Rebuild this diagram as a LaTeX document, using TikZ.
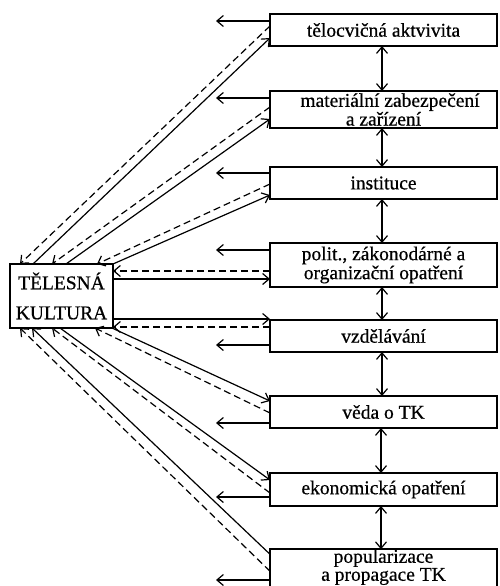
\documentclass[tikz,border=0pt]{standalone}
\usepackage{fontspec}
\setmainfont[FakeBold=0.6]{Liberation Serif}
\usetikzlibrary{arrows.meta}
\begin{document}
\begin{tikzpicture}[x=1pt,y=-1pt,
  box/.style={draw, line width=1.5pt, minimum width=227pt, inner sep=0pt, outer sep=0pt, align=center, font=\fontsize{19.5}{19}\selectfont},
  tip/.style={-{Straight Barb[length=6.5pt,width=11pt,line width=1.2pt]}},
  twotip/.style={{Straight Barb[length=6.5pt,width=11pt,line width=1.2pt]}-{Straight Barb[length=6.5pt,width=11pt,line width=1.2pt]}},
  ln/.style={line width=1.2pt},
  dsh/.style={line width=1.2pt, dash pattern=on 7pt off 4pt},
]
\useasboundingbox (0,0) rectangle (499,586);
% boxes
\node[box, minimum height=32pt] (b1) at (383.5,30) {tělocvičná aktvivita};
\node[box, minimum height=37pt, font=\fontsize{19.5}{14}\selectfont] (b2) at (383.5,109.5) {\hspace*{13pt}materiální zabezpečení\\a zařízení};
\node[box, minimum height=32pt] (b3) at (383.5,183) {instituce};
\node[box, minimum height=44pt] (b4) at (383.5,265) {polit., zákonodárné a\\organizační opatření};
\node[box, minimum height=32pt] (b5) at (383.5,336) {vzdělávání};
\node[box, minimum height=32pt] (b6) at (383.5,412) {věda o TK};
\node[box, minimum height=33pt] (b7) at (383.5,489.5) {ekonomická opatření};
\node[box, minimum height=42pt, font=\fontsize{19.5}{18}\selectfont, text depth=12pt] (b8) at (383.5,571) {popularizace\\a propagace TK};
\node[draw, line width=1.5pt, minimum width=103pt, minimum height=64pt, inner sep=0pt, outer sep=0pt, align=center, font=\fontsize{19.5}{30}\selectfont] (tk) at (61.5,296) {TĚLESNÁ\\KULTURA};
% vertical double arrows
\draw[ln,twotip] ([xshift=-1.5pt]b1.south) -- ([xshift=-1.5pt]b2.north);
\draw[ln,twotip] ([xshift=-1.5pt]b2.south) -- ([xshift=-1.5pt]b3.north);
\draw[ln,twotip] ([xshift=-1.5pt]b3.south) -- ([xshift=-1.5pt]b4.north);
\draw[ln,twotip] ([xshift=-1.5pt]b4.south) -- ([xshift=-1.5pt]b5.north);
\draw[ln,twotip] ([xshift=-1.5pt]b5.south) -- ([xshift=-1.5pt]b6.north);
\draw[ln,twotip] ([xshift=-2.5pt]b6.south) -- ([xshift=-2.5pt]b7.north);
\draw[ln,twotip] ([xshift=-2.5pt]b7.south) -- ([xshift=-2.5pt]b8.north);
% short left arrows
\coordinate (l1) at (216,21);
\coordinate (l2) at (216,98);
\coordinate (l3) at (216,173);
\coordinate (l4) at (216,250);
\coordinate (l5) at (216,345);
\coordinate (l6) at (216,423);
\coordinate (l7) at (216,497);
\coordinate (l8) at (216,580);
\draw[ln,tip] (b1.west |- l1) -- (l1);
\draw[ln,tip] (b2.west |- l2) -- (l2);
\draw[ln,tip] (b3.west |- l3) -- (l3);
\draw[ln,tip] (b4.west |- l4) -- (l4);
\draw[ln,tip] (b5.west |- l5) -- (l5);
\draw[ln,tip] (b6.west |- l6) -- (l6);
\draw[ln,tip] (b7.west |- l7) -- (l7);
\draw[ln,tip] (b8.west |- l8) -- (l8);
% upper diagonals
\draw[dsh,tip] ([yshift=-12pt]b1.north west) -- ([xshift=10pt]tk.north west);
\draw[ln,tip] ([xshift=23pt]tk.north west) -- ([yshift=-24pt]b1.north west);
\draw[dsh,tip] ([yshift=-16pt]b2.north west) -- ([xshift=42pt]tk.north west);
\draw[ln,tip] ([xshift=56pt]tk.north west) -- ([yshift=-28pt]b2.north west);
\draw[dsh,tip] ([yshift=-17pt]b3.north west) -- ([xshift=87pt]tk.north west);
\draw[ln,tip] (tk.north east) -- ([yshift=-28pt]b3.north west);
% horizontals
\draw[dsh,tip] ([yshift=-28pt]b4.north west) -- ([yshift=-7pt]tk.north east);
\draw[ln,tip] ([yshift=-15pt]tk.north east) -- ([yshift=-36pt]b4.north west);
\draw[ln,tip] ([yshift=-55pt]tk.north east) -- ([yshift=1pt]b5.north west);
\draw[dsh,tip] ([yshift=-7pt]b5.north west) -- ([yshift=-63pt]tk.north east);
% lower diagonals
\draw[ln,tip] ([xshift=-1pt]tk.south east) -- ([yshift=-5pt]b6.north west);
\draw[dsh,tip] ([yshift=-17pt]b6.north west) -- ([xshift=85pt]tk.south west);
\draw[ln,tip] ([xshift=50pt]tk.south west) -- ([yshift=-7pt]b7.north west);
\draw[dsh,tip] ([yshift=-20pt]b7.north west) -- ([xshift=42pt]tk.south west);
\draw[ln,tip] ([yshift=-5pt]b8.north west) -- ([xshift=22pt]tk.south west);
\draw[dsh,tip] ([yshift=-22pt]b8.north west) -- ([xshift=10pt]tk.south west);
\end{tikzpicture}
\end{document}
